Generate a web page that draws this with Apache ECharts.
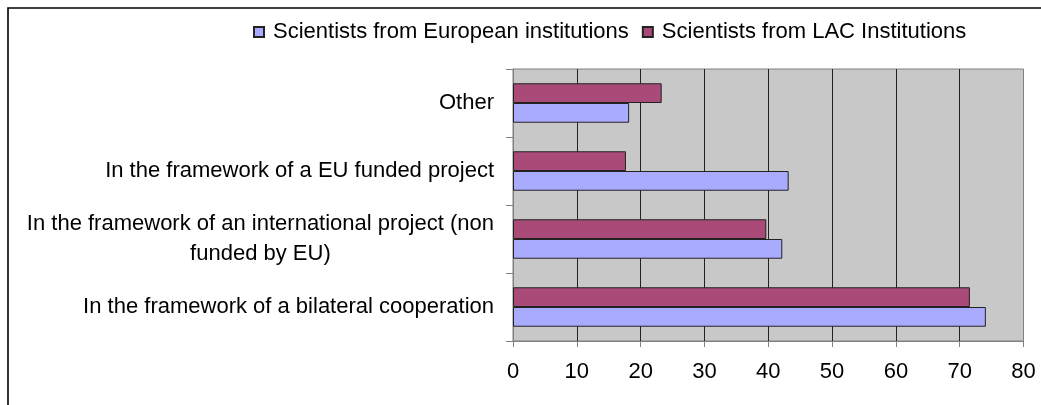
<!DOCTYPE html>
<html>
<head>
<meta charset="utf-8">
<style>
  html, body { margin: 0; padding: 0; background: #fff; }
  #chart { width: 1041px; height: 405px; }
</style>
<script src="https://cdn.jsdelivr.net/npm/echarts@6/dist/echarts.min.js"></script>
</head>
<body>
<div id="chart"></div>
<script>
// Categories, bottom to top on the axis
const categories = [
  'In the framework of a bilateral cooperation',
  'In the framework of an international project (non\nfunded by EU)',
  'In the framework of a EU funded project',
  'Other'
];
const seriesNames = ['Scientists from European institutions', 'Scientists from LAC Institutions'];
const europeanValues = [74.1, 42.2, 43.2, 18.2];
const lacValues = [71.6, 39.7, 17.7, 23.3];
const xTicks = [0, 10, 20, 30, 40, 50, 60, 70, 80];

const FONT = '"Liberation Sans", Arial, sans-serif';
const FS = 22;

const chart = echarts.init(document.getElementById('chart'), null, { renderer: 'canvas' });

// Multi-line category labels get each line centred under the first
function labelFormatter(value) {
  const lines = value.split('\n');
  if (lines.length === 1) return value;
  return lines.map(l => '{c|' + l + '}').join('\n');
}

chart.setOption({
  animation: false,
  backgroundColor: '#ffffff',
  textStyle: { fontFamily: FONT },
  graphic: [{
    type: 'rect',
    shape: { x: 8, y: 8, width: 1200, height: 600 },
    style: { fill: 'none', stroke: '#000', lineWidth: 1.6 },
    silent: true,
    z: 100
  }],
  legend: {
    top: 21,
    left: 253,
    padding: 0,
    itemWidth: 10,
    itemHeight: 10,
    itemGap: 13,
    icon: 'rect',
    textStyle: { fontFamily: FONT, fontSize: FS, color: '#000', padding: [0, 0, 0, 4] },
    data: seriesNames
  },
  grid: {
    left: 513,
    right: 17.5,
    top: 69,
    bottom: 64,
    show: true,
    backgroundColor: '#c8c8c8',
    borderColor: '#808080',
    borderWidth: 1
  },
  xAxis: {
    type: 'value',
    min: xTicks[0],
    max: xTicks[xTicks.length - 1],
    interval: 10,
    axisLine: { show: true, lineStyle: { color: '#808080' } },
    axisTick: { show: true, length: 6, lineStyle: { color: '#808080' } },
    axisLabel: { fontFamily: FONT, fontSize: FS, color: '#000', margin: 20 },
    splitLine: { show: true, showMinLine: false, showMaxLine: false, lineStyle: { color: '#222', width: 1 } }
  },
  yAxis: {
    type: 'category',
    data: categories,
    axisLine: { show: true, lineStyle: { color: '#808080' } },
    axisTick: { show: true, length: 7, lineStyle: { color: '#808080' } },
    axisLabel: {
      fontFamily: FONT,
      fontSize: FS,
      color: '#000',
      margin: 19,
      lineHeight: 30,
      formatter: labelFormatter,
      rich: { c: { align: 'center', fontFamily: FONT, fontSize: FS, color: '#000', lineHeight: 30 } }
    },
    splitLine: { show: false }
  },
  series: [
    {
      name: seriesNames[1],
      type: 'bar',
      data: lacValues,
      barCategoryGap: '42%',
      barGap: '0%',
      itemStyle: { color: '#a94a78', borderColor: '#222', borderWidth: 1 }
    },
    {
      name: seriesNames[0],
      type: 'bar',
      data: europeanValues,
      barCategoryGap: '42%',
      barGap: '0%',
      itemStyle: { color: '#a9abff', borderColor: '#222', borderWidth: 1 }
    }
  ]
});
</script>
</body>
</html>
